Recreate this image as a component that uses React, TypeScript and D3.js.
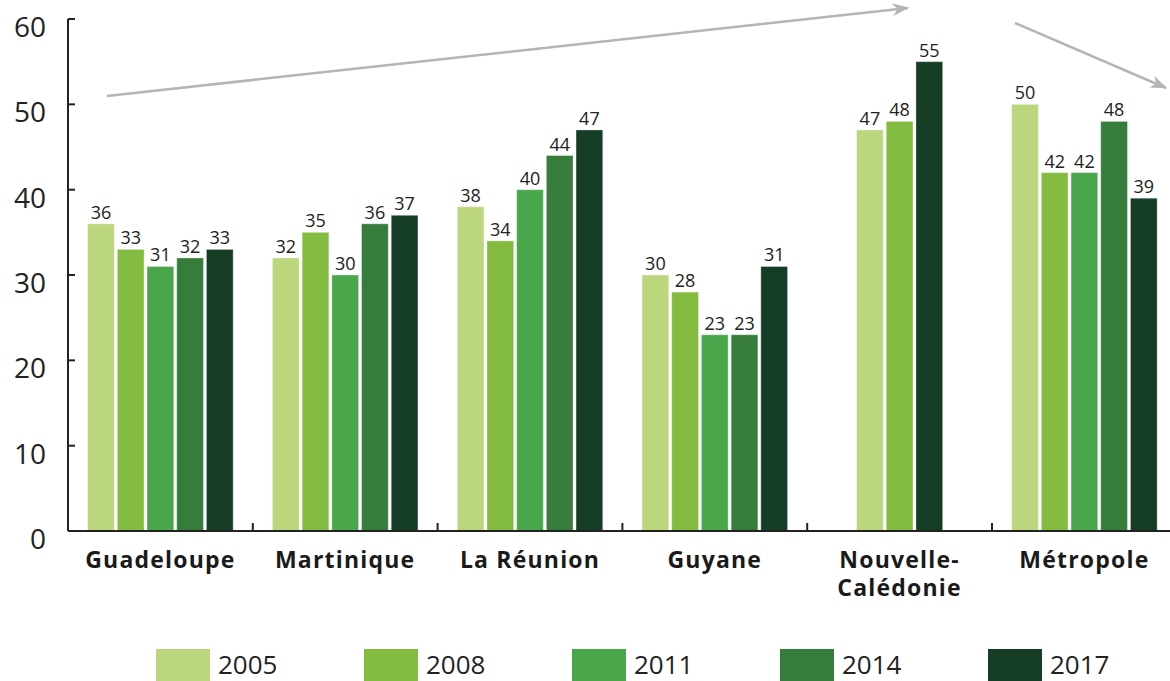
import React from 'react';
import * as d3 from 'd3';

const categories = ['Guadeloupe', 'Martinique', 'La Réunion', 'Guyane', 'Nouvelle-Calédonie', 'Métropole'];
const categoryLines = [['Guadeloupe'], ['Martinique'], ['La Réunion'], ['Guyane'], ['Nouvelle-', 'Calédonie'], ['Métropole']];
const years = ['2005', '2008', '2011', '2014', '2017'];
const colors = ['#bcd67e', '#84bb41', '#4aa64a', '#367c3b', '#163d26'];

// one array per year, in category order; null = no data
const v2005 = [36, 32, 38, 30, 47, 50];
const v2008 = [33, 35, 34, 28, 48, 42];
const v2011 = [31, 30, 40, 23, null, 42];
const v2014 = [32, 36, 44, 23, null, 48];
const v2017 = [33, 37, 47, 31, 55, 39];
const series = [v2005, v2008, v2011, v2014, v2017];

const yTicks = [0, 10, 20, 30, 40, 50, 60];

const W = 1170;
const H = 681;
const margin = { left: 68, top: 19 };

const App = () => {
  const x = d3.scaleBand<string>()
    .domain(categories)
    .range([margin.left, margin.left + 184.8 * categories.length]);
  const y = d3.scaleLinear().domain([0, 60]).range([531, margin.top]);
  const step = 29.7;

  const legendX = d3.scaleLinear().domain([0, 4]).range([156, 988]);

  return (
    <div style={{ position: 'absolute', left: 0, top: 0 }}>
      <svg width={W} height={H} style={{ display: 'block' }} fontFamily="'Open Sans', sans-serif">
        <defs>
          <marker id="ah" viewBox="0 0 10 10" refX="9" refY="5" markerWidth="9" markerHeight="8"
            markerUnits="userSpaceOnUse" orient="auto" style={{ overflow: 'visible' }}>
            <path d="M0,0 L10,5 L0,10 L3,5 z" fill="#b5b5b5" transform="scale(2.1,1.6) translate(-5,-2)" />
          </marker>
        </defs>

        {/* bars */}
        {categories.map((c, ci) => {
          const present = years.filter((_, si) => series[si][ci] != null);
          const cx = (x(c) as number) + x.bandwidth() / 2;
          const inner = d3.scaleBand<string>()
            .domain(present)
            .range([cx - (present.length * step) / 2, cx + (present.length * step) / 2])
            .paddingInner(0.1)
            .paddingOuter(0.05);
          return (
            <g key={c}>
              {present.map((yr) => {
                const si = years.indexOf(yr);
                const val = series[si][ci] as number;
                const bx = inner(yr) as number;
                return (
                  <g key={yr}>
                    <rect x={bx} y={y(val)} width={inner.bandwidth()} height={y(0) - y(val)}
                      fill={colors[si]} stroke="#ffffff" strokeOpacity={0.35} strokeWidth={1} />
                    <text x={bx + inner.bandwidth() / 2} y={y(val) - 5} textAnchor="middle"
                      fontSize={18} fill="#222">{val}</text>
                  </g>
                );
              })}
            </g>
          );
        })}

        {/* y axis */}
        <line x1={margin.left} x2={margin.left} y1={y(60)} y2={y(0)} stroke="#222" strokeWidth={2} />
        {yTicks.map((t) => (
          <g key={t}>
            <line x1={margin.left} x2={margin.left + 7} y1={y(t)} y2={y(t)} stroke="#222" strokeWidth={2} />
            <text x={46} y={y(t) + 18} textAnchor="end" fontSize={28} fill="#222">{t}</text>
          </g>
        ))}

        {/* x axis */}
        <line x1={margin.left} x2={W} y1={y(0)} y2={y(0)} stroke="#222" strokeWidth={2} />
        {categories.slice(1).map((c) => (
          <line key={c} x1={x(c) as number} x2={x(c) as number} y1={y(0)} y2={y(0) - 8} stroke="#222" strokeWidth={2} />
        ))}
        {categories.map((c, ci) => (
          <text key={c} x={(x(c) as number) + x.bandwidth() / 2} y={568} textAnchor="middle"
            fontSize={23} fontWeight={700} letterSpacing={1.2} fill="#1a1a1a">
            {categoryLines[ci].map((ln, li) => (
              <tspan key={li} x={(x(c) as number) + x.bandwidth() / 2} dy={li === 0 ? 0 : 28}>{ln}</tspan>
            ))}
          </text>
        ))}

        {/* trend arrows */}
        <line x1={107} y1={96} x2={908} y2={8} stroke="#b5b5b5" strokeWidth={2.5} markerEnd="url(#ah)" />
        <line x1={1015} y1={23} x2={1166} y2={88} stroke="#b5b5b5" strokeWidth={2.5} markerEnd="url(#ah)" />

        {/* legend */}
        {years.map((yr, i) => (
          <g key={yr} transform={`translate(${legendX(i)},649)`}>
            <rect width={54} height={34} fill={colors[i]} />
            <text x={62} y={25} fontSize={26} fill="#222">{yr}</text>
          </g>
        ))}
      </svg>
    </div>
  );
};

export default App;
